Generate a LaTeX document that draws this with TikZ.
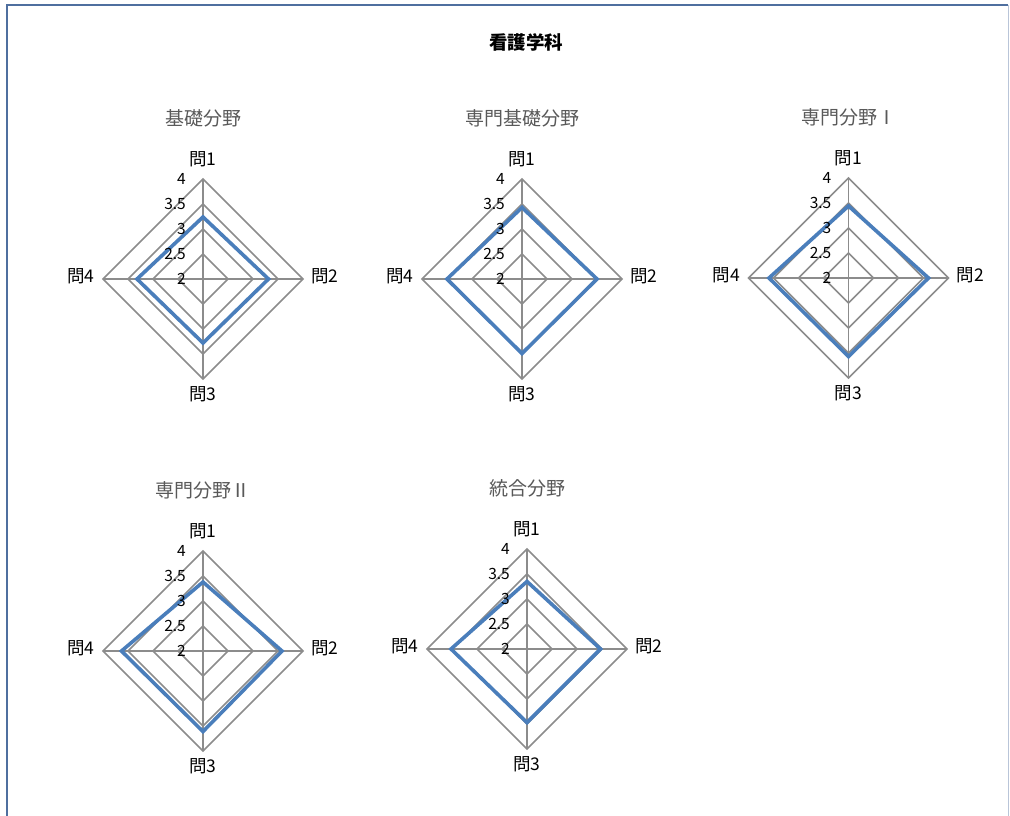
\documentclass[tikz,border=0pt]{standalone}
\usepackage{fontspec}
\setmainfont{Noto Sans CJK JP}
\newfontfamily\jp{Noto Sans CJK JP}
\definecolor{gridgray}{HTML}{8C8C8C}
\definecolor{seriesblue}{HTML}{4A7EBB}
\definecolor{titlegray}{HTML}{595959}
\definecolor{framecol}{HTML}{4F6F9F}
\tikzset{
  gridline/.style={draw=gridgray, line width=1.5pt},
  seriesline/.style={draw=seriesblue, line width=3.6pt, line join=miter},
  axlabel/.style={font=\jp\fontsize{17.5}{19}\selectfont, text=black, inner sep=0pt},
  ticklabel/.style={font=\jp\fontsize{15.5}{17}\selectfont, text=black, inner sep=0pt, anchor=east},
  charttitle/.style={font=\jp\fontsize{19}{21}\selectfont, text=titlegray, inner sep=0pt},
}
\newcommand\myradar[8]{%
  \begin{scope}[shift={(#1,#2)}]
    \coordinate (#3-c) at (0,0);
    \foreach \r in {25,50,75,100}
      \draw[gridline] (0,-\r) -- (\r,0) -- (0,\r) -- (-\r,0) -- cycle;
    \coordinate (#3-n) at (0,-100);
    \coordinate (#3-s) at (0,100);
    \coordinate (#3-e) at (100,0);
    \coordinate (#3-w) at (-100,0);
    \draw[gridline] (#3-n) -- (#3-s);
    \draw[gridline] (#3-w) -- (#3-e);
    \coordinate (#3-v1) at (0,{-(#4-2)*50});
    \coordinate (#3-v2) at ({(#5-2)*50},0);
    \coordinate (#3-v3) at (0,{(#6-2)*50});
    \coordinate (#3-v4) at ({-(#7-2)*50},0);
    \draw[seriesline] (#3-v1) -- (#3-v2) -- (#3-v3) -- (#3-v4) -- cycle;
    \node[ticklabel] (#3-t4) at (-17,-100) {4};
    \node[ticklabel] (#3-t35) at (-17,-75) {3.5};
    \node[ticklabel] (#3-t3) at (-17,-50) {3};
    \node[ticklabel] (#3-t25) at (-17,-25) {2.5};
    \node[ticklabel] (#3-t2) at (-17,0) {2};
    \node[axlabel] (#3-q1) at (0,-120) {問1};
    \node[axlabel] (#3-q2) at (122,-3) {問2};
    \node[axlabel] (#3-q3) at (0,115) {問3};
    \node[axlabel] (#3-q4) at (-122,-3) {問4};
    \node[charttitle] (#3-title) at (0,-161) {#8};
  \end{scope}}
\begin{document}
\begin{tikzpicture}[x=1pt,y=-1pt]
  \useasboundingbox (0,0) rectangle (1010,816);
  \fill[white] (0,0) rectangle (1010,816);
  \coordinate (fbl) at (6.5,816);
  \coordinate (ftl) at (6.5,5.5);
  \coordinate (ftr) at (1008,5.5);
  \coordinate (fbr) at (1008,816);
  \draw[framecol, line width=2pt] (fbl) -- (ftl) -- (ftr);
  \draw[framecol!40, line width=1pt] (ftr) -- (fbr);
  \node[font={\jp\bfseries\fontsize{18.5}{20}\selectfont}, inner sep=0pt] (maintitle) at (526,42) {看護学科};
  \myradar{203}{279}{A}{3.24}{3.31}{3.28}{3.32}{基礎分野}
  \myradar{522}{279}{B}{3.43}{3.50}{3.49}{3.50}{専門基礎分野}
  \myradar{848.5}{278}{C}{3.44}{3.60}{3.57}{3.59}{専門分野Ⅰ}
  \myradar{203}{651}{D}{3.38}{3.58}{3.61}{3.63}{専門分野Ⅱ}
  \myradar{527}{649}{E}{3.35}{3.47}{3.47}{3.52}{統合分野}
\end{tikzpicture}
\end{document}
